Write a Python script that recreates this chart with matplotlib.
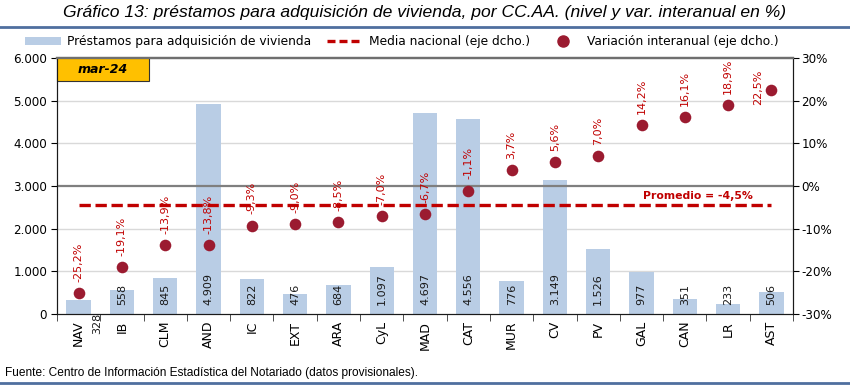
import matplotlib
matplotlib.use("Agg")
import matplotlib.pyplot as plt
from matplotlib.patches import Patch, Rectangle
from matplotlib.lines import Line2D
import numpy as np

# Datos
regiones = ["NAV", "IB", "CLM", "AND", "IC", "EXT", "ARA", "CyL", "MAD",
            "CAT", "MUR", "CV", "PV", "GAL", "CAN", "LR", "AST"]
prestamos = [328, 558, 845, 4909, 822, 476, 684, 1097, 4697,
             4556, 776, 3149, 1526, 977, 351, 233, 506]
variacion = [-25.2, -19.1, -13.9, -13.8, -9.3, -9.0, -8.5, -7.0, -6.7,
             -1.1, 3.7, 5.6, 7.0, 14.2, 16.1, 18.9, 22.5]
media_nacional = -4.5
yticks_left = [0, 1000, 2000, 3000, 4000, 5000, 6000]
yticks_right = [-30, -20, -10, 0, 10, 20, 30]

BAR = "#b9cde5"
DOT = "#9b1b30"
RED = "#c00000"
NARROW = ["Liberation Sans", "DejaVu Sans"]

plt.rcParams["font.family"] = ["DejaVu Sans"]

fig = plt.figure(figsize=(8.5, 3.86), dpi=100)
ax = fig.add_axes([0.067, 0.187, 0.866, 0.663])
ax2 = ax.twinx()

x = np.arange(len(regiones))

# gridlines behind bars
for v in [1000, 2000, 4000, 5000]:
    ax.axhline(v, color="#d9d9d9", lw=1, zorder=0)

ax.bar(x, prestamos, width=0.56, color=BAR, zorder=2)

def miles(v):
    return f"{v:,}".replace(",", ".")

for xi, v in zip(x, prestamos):
    if xi == 0:
        # etiqueta desplazada como en el original
        ax.annotate(miles(v), (xi + 0.42, 0), xytext=(0, 1), textcoords="offset points",
                    rotation=90, ha="center", va="top", fontsize=8, color="#1a1a1a",
                    annotation_clip=False, zorder=3)
    else:
        ax.annotate(miles(v), (xi, 0), xytext=(0, 6), textcoords="offset points",
                    rotation=90, ha="center", va="bottom", fontsize=8, color="#1a1a1a",
                    zorder=3)

ax.set_xlim(-0.5, len(regiones) - 0.5)
ax.set_ylim(0, 6000)
ax.set_yticks(yticks_left)
ax.set_yticklabels([miles(v) for v in yticks_left], fontsize=8.6)
ax.set_xticks(x)
ax.set_xticklabels(regiones, rotation=90, fontsize=9)
ax.set_xticks(np.arange(-0.5, len(regiones), 1), minor=True)
ax.tick_params(axis="x", which="major", length=0, pad=5)
ax.tick_params(axis="x", which="minor", length=5, direction="out", color="#333333")
ax.tick_params(axis="y", length=4, direction="out", pad=3)

# eje derecho
ax2.set_ylim(-30, 30)
ax2.set_yticks(yticks_right)
ax2.set_yticklabels([f"{v}%" for v in yticks_right], fontsize=8.6)
ax2.tick_params(axis="y", length=4, direction="out", pad=2)

ax2.axhline(0, color="#7f7f7f", lw=1.6, zorder=1)
ax2.plot([x[0], x[-1]], [media_nacional, media_nacional], color=RED, lw=2.4,
         linestyle=(0, (3.4, 1.4)), zorder=2)
ax2.annotate("Promedio = " + f"{media_nacional:.1f}%".replace(".", ","),
             (14.3, media_nacional), xytext=(0, 3), textcoords="offset points",
             ha="center", va="bottom", fontsize=7.8, fontweight="bold", color=RED)

ax2.scatter(x, variacion, s=70, color=DOT, zorder=4, linewidths=0)
for xi, v in zip(x, variacion):
    txt = f"{v:.1f}%".replace(".", ",")
    if xi == x[-1]:
        ax2.annotate(txt, (xi, v), xytext=(-6, -11), textcoords="offset points",
                     rotation=90, ha="right", va="bottom", fontsize=8, color=RED)
    else:
        ax2.annotate(txt, (xi, v), xytext=(0, 8), textcoords="offset points",
                     rotation=90, ha="center", va="bottom", fontsize=8, color=RED)

for a in (ax, ax2):
    a.spines["top"].set_color("#6f6f6f")
    a.spines["top"].set_linewidth(1.6)
    a.spines["left"].set_color("#1a1a1a")
    a.spines["right"].set_color("#1a1a1a")
    a.spines["bottom"].set_color("#1a1a1a")

# recuadro fecha
ax.add_patch(Rectangle((0, 0.91), 0.125, 0.09, transform=ax.transAxes,
                       facecolor="#ffc000", edgecolor="#333333", lw=0.8, zorder=5,
                       clip_on=False))
ax.text(0.0625, 0.955, "mar-24", transform=ax.transAxes, ha="center", va="center",
        fontsize=9, fontweight="bold", fontstyle="italic", zorder=6)

# titulo, leyenda y fuente
fig.text(0.5, 0.968, "Gráfico 13: préstamos para adquisición de vivienda, por CC.AA. (nivel y var. interanual en %)",
         ha="center", va="center", fontsize=12.6, fontstyle="italic", family=NARROW)
fig.add_artist(Line2D([0, 1], [0.93, 0.93], color="#4f6f9f", lw=2, transform=fig.transFigure))
fig.add_artist(Line2D([0, 1], [0.008, 0.008], color="#4f6f9f", lw=2, transform=fig.transFigure))

handles = [
    Patch(facecolor=BAR, edgecolor="none"),
    Line2D([], [], color=RED, lw=2.4, linestyle=(0, (2.4, 1.2))),
    Line2D([], [], color=DOT, marker="o", markersize=8, lw=0),
]
labels = ["Préstamos para adquisición de vivienda", "Media nacional (eje dcho.)",
          "Variación interanual (eje dcho.)"]
fig.legend(handles, labels, loc="center", bbox_to_anchor=(0.473, 0.892), ncol=3,
           frameon=False, fontsize=8.8, handlelength=2.9, handleheight=0.7,
           columnspacing=1.3, handletextpad=0.5)

fig.text(0.006, 0.034, "Fuente: Centro de Información Estadística del Notariado (datos provisionales).",
         ha="left", va="center", fontsize=8.6, family=NARROW)

fig.savefig("out.png", dpi=100)
